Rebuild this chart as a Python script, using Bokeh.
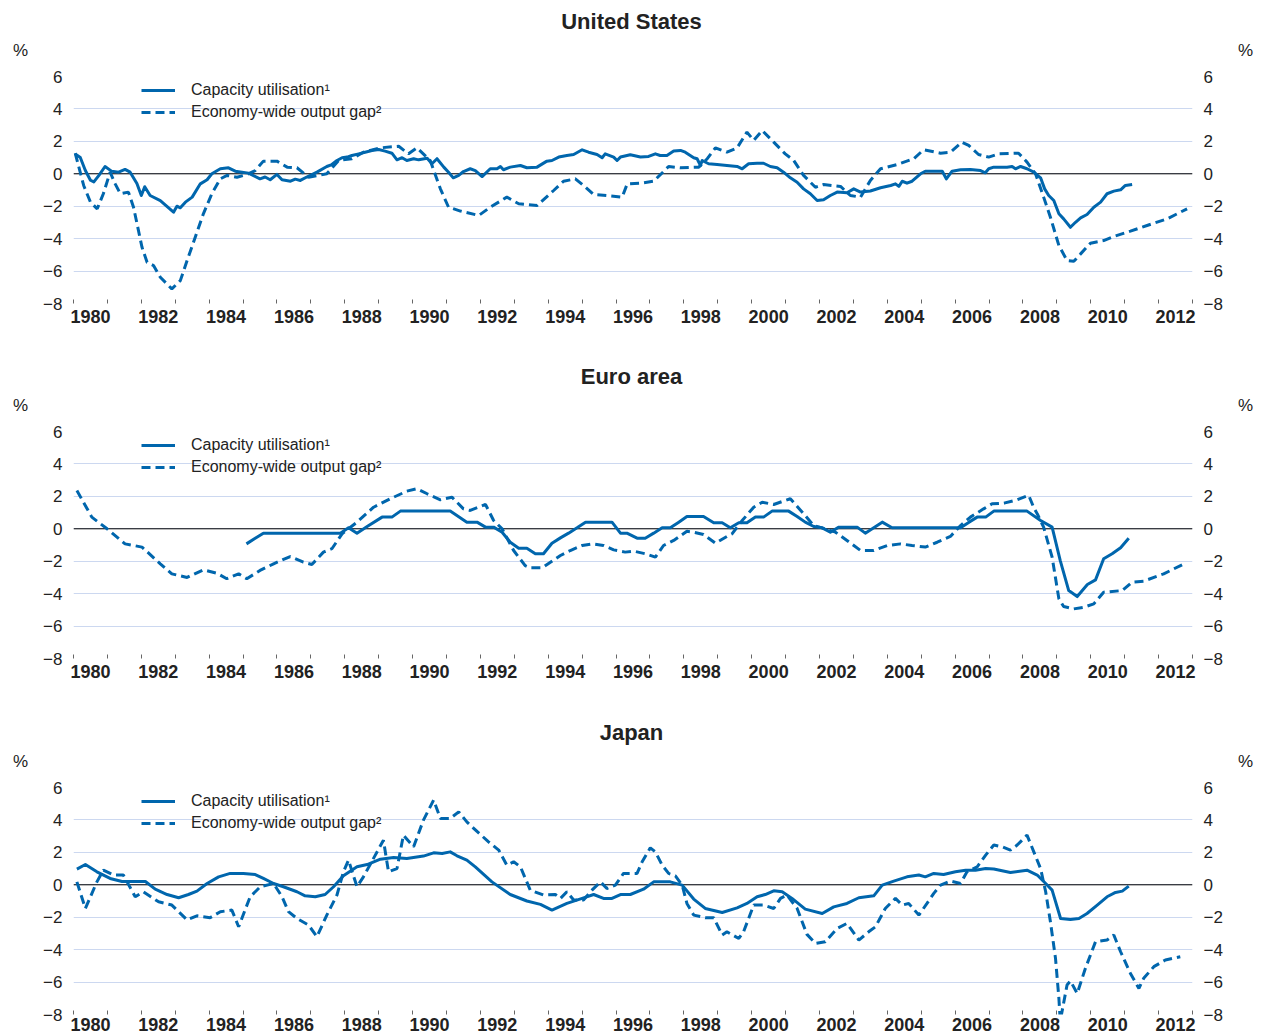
from bokeh.plotting import figure
from bokeh.models import (FixedTicker, LinearAxis, Range1d, Span, Legend,
                          LegendItem, CustomJSTickFormatter)
from bokeh.core.properties import value
from bokeh.layouts import column
from bokeh.embed import file_html
from bokeh.resources import INLINE

# ---------------- data ----------------
YEAR_LABELS = list(range(1980, 2013, 2))
Y_TICKS = [-8, -6, -4, -2, 0, 2, 4, 6]
LEGEND_CU = "Capacity utilisation¹"
LEGEND_OG = "Economy-wide output gap²"
UNIT = "%"

# United States
us_cu_t = [1980.05, 1980.2, 1980.35, 1980.5, 1980.6, 1980.75, 1980.93, 1981.13, 1981.33, 1981.52, 1981.67, 1981.87,
           1982.0, 1982.1, 1982.26, 1982.56, 1982.95, 1983.05, 1983.15, 1983.3, 1983.5, 1983.74, 1983.94, 1984.08,
           1984.33, 1984.57, 1984.77, 1984.97, 1985.16, 1985.5, 1985.65, 1985.8, 1986.0, 1986.15, 1986.4, 1986.54,
           1986.69, 1986.88, 1987.18, 1987.47, 1987.62, 1987.77, 1987.92, 1988.07, 1988.21, 1988.41, 1988.6, 1988.8,
           1989.0, 1989.19, 1989.39, 1989.54, 1989.69, 1989.83, 1990.03, 1990.18, 1990.43, 1990.57, 1990.72, 1990.92,
           1991.06, 1991.2, 1991.36, 1991.5, 1991.7, 1991.85, 1992.05, 1992.29, 1992.49, 1992.59, 1992.68, 1992.88,
           1993.18, 1993.37, 1993.67, 1993.96, 1994.11, 1994.31, 1994.55, 1994.75, 1995.0, 1995.19, 1995.44, 1995.59,
           1995.68, 1995.93, 1996.03, 1996.13, 1996.42, 1996.72, 1996.96, 1997.16, 1997.3, 1997.5, 1997.7, 1997.9,
           1998.04, 1998.29, 1998.39, 1998.49, 1998.54, 1998.73, 1998.98, 1999.27, 1999.57, 1999.72, 1999.91, 2000.16,
           2000.35, 2000.55, 2000.75, 2000.94, 2001.14, 2001.34, 2001.53, 2001.73, 2001.93, 2002.12, 2002.32, 2002.52,
           2002.81, 2003.01, 2003.21, 2003.5, 2003.8, 2004.1, 2004.24, 2004.34, 2004.44, 2004.58, 2004.73, 2004.98,
           2005.12, 2005.62, 2005.74, 2005.91, 2006.16, 2006.45, 2006.75, 2006.89, 2006.99, 2007.14, 2007.53, 2007.68,
           2007.78, 2007.93, 2008.12, 2008.32, 2008.52, 2008.64, 2008.76, 2008.91, 2009.06, 2009.2, 2009.4, 2009.55,
           2009.7, 2009.89, 2010.09, 2010.29, 2010.48, 2010.68, 2010.88, 2011.02, 2011.22]
us_cu_v = [1.23, 1.0, 0.2, -0.4, -0.5, -0.1, 0.45, 0.15, 0.1, 0.27, 0.1, -0.6,
           -1.34, -0.8, -1.34, -1.65, -2.37, -2.0, -2.1, -1.75, -1.44, -0.62, -0.37, 0.0,
           0.31, 0.37, 0.16, 0.1, 0.04, -0.31, -0.2, -0.37, -0.04, -0.37, -0.46, -0.33,
           -0.41, -0.2, 0.1, 0.45, 0.57, 0.82, 0.99, 1.03, 1.13, 1.23, 1.33, 1.44,
           1.5, 1.4, 1.27, 0.86, 0.99, 0.82, 0.93, 0.86, 0.96, 0.62, 0.93, 0.41,
           0.1, -0.25, -0.1, 0.14, 0.31, 0.2, -0.17, 0.31, 0.31, 0.45, 0.25, 0.41,
           0.51, 0.37, 0.41, 0.78, 0.82, 1.03, 1.13, 1.19, 1.48, 1.33, 1.19, 0.99,
           1.23, 1.03, 0.82, 1.03, 1.17, 1.03, 1.07, 1.23, 1.13, 1.13, 1.4, 1.44,
           1.33, 0.99, 0.93, 0.51, 0.82, 0.62, 0.57, 0.51, 0.45, 0.31, 0.62, 0.65,
           0.65, 0.45, 0.37, 0.1, -0.25, -0.52, -0.93, -1.23, -1.65, -1.6, -1.34, -1.13,
           -1.17, -0.93, -1.13, -1.06, -0.86, -0.72, -0.62, -0.78, -0.46, -0.58, -0.46, 0.0,
           0.16, 0.16, -0.31, 0.16, 0.25, 0.27, 0.2, 0.06, 0.31, 0.41, 0.41, 0.45,
           0.31, 0.45, 0.31, 0.1, -0.25, -0.93, -1.34, -1.65, -2.47, -2.78, -3.3, -2.99,
           -2.72, -2.51, -2.06, -1.75, -1.23, -1.07, -0.99, -0.72, -0.66]

us_og_t = [1980.05, 1980.3, 1980.5, 1980.7, 1980.88, 1981.08, 1981.23, 1981.38, 1981.62, 1981.77, 1982.02, 1982.17,
           1982.36, 1982.56, 1982.9, 1983.15, 1983.35, 1983.59, 1983.83, 1984.08, 1984.33, 1984.53, 1984.82, 1985.12,
           1985.36, 1985.6, 1986.0, 1986.3, 1986.59, 1986.93, 1987.23, 1987.47, 1987.82, 1988.21, 1988.55, 1989.05,
           1989.59, 1989.88, 1990.13, 1990.52, 1990.82, 1991.06, 1991.41, 1991.95, 1992.29, 1992.78, 1993.13, 1993.67,
           1994.16, 1994.45, 1994.8, 1995.04, 1995.34, 1995.73, 1996.18, 1996.33, 1996.72, 1997.11, 1997.55, 1997.9,
           1998.44, 1998.69, 1998.93, 1999.27, 1999.57, 1999.86, 2000.06, 2000.31, 2000.65, 2000.99, 2001.24, 2001.53,
           2001.88, 2002.12, 2002.62, 2002.91, 2003.21, 2003.5, 2003.8, 2004.29, 2004.78, 2005.07, 2005.57, 2005.86,
           2006.2, 2006.4, 2006.69, 2006.99, 2007.28, 2007.87, 2008.12, 2008.37, 2008.61, 2008.81, 2009.06, 2009.3,
           2009.5, 2009.7, 2009.99, 2010.38, 2010.68, 2011.17, 2011.66, 2012.25, 2012.84]
us_og_v = [1.27, -0.72, -1.75, -2.16, -1.23, 0.1, -0.62, -1.23, -1.13, -2.06, -4.53, -5.46,
           -5.66, -6.38, -7.1, -6.59, -5.35, -3.91, -2.47, -1.23, -0.31, -0.1, -0.21, -0.04,
           0.2, 0.78, 0.78, 0.41, 0.37, -0.21, -0.1, 0.0, 0.82, 0.93, 1.33, 1.6,
           1.7, 1.23, 1.6, 0.82, -0.93, -2.06, -2.3, -2.57, -2.06, -1.44, -1.85, -1.96,
           -1.03, -0.46, -0.31, -0.72, -1.28, -1.34, -1.44, -0.62, -0.58, -0.46, 0.45, 0.37,
           0.41, 0.93, 1.6, 1.33, 1.6, 2.57, 2.06, 2.67, 1.95, 1.23, 0.82, -0.1,
           -0.83, -0.66, -0.78, -1.34, -1.44, -0.41, 0.31, 0.57, 0.93, 1.48, 1.27, 1.33,
           1.95, 1.75, 1.19, 1.03, 1.23, 1.27, 0.72, 0.0, -1.44, -2.68, -4.43, -5.35,
           -5.4, -4.94, -4.28, -4.12, -3.87, -3.54, -3.19, -2.78, -2.16]

# Euro area
ea_cu_t = [1985.1, 1985.6, 1987.87, 1988.11, 1988.36, 1988.66, 1989.1, 1989.39, 1989.64, 1991.11, 1991.6, 1991.9,
           1992.15, 1992.39, 1992.64, 1992.88, 1993.13, 1993.37, 1993.62, 1993.86, 1994.11, 1994.36, 1994.6, 1994.85,
           1995.1, 1995.88, 1996.13, 1996.32, 1996.62, 1996.86, 1997.11, 1997.36, 1997.6, 1997.85, 1998.09, 1998.58,
           1998.88, 1999.13, 1999.37, 1999.62, 1999.86, 2000.11, 2000.35, 2000.6, 2001.09, 2001.34, 2001.58, 2001.83,
           2002.08, 2002.32, 2002.57, 2003.11, 2003.35, 2003.85, 2004.14, 2006.16, 2006.41, 2006.65, 2006.9, 2007.14,
           2008.12, 2008.52, 2008.86, 2009.1, 2009.35, 2009.6, 2009.9, 2010.14, 2010.38, 2010.63, 2010.88, 2011.12]
ea_cu_v = [-0.93, -0.27, -0.27, 0.06, -0.27, 0.14, 0.72, 0.72, 1.09, 1.09, 0.41, 0.41,
           0.1, 0.1, -0.21, -0.83, -1.2, -1.2, -1.54, -1.54, -0.89, -0.56, -0.27, 0.06,
           0.41, 0.41, -0.27, -0.27, -0.58, -0.58, -0.27, 0.06, 0.06, 0.41, 0.76, 0.76,
           0.37, 0.37, 0.06, 0.37, 0.37, 0.72, 0.72, 1.09, 1.09, 0.76, 0.41, 0.14,
           0.06, -0.21, 0.1, 0.1, -0.27, 0.41, 0.06, 0.06, 0.41, 0.72, 0.72, 1.09,
           1.09, 0.51, 0.1, -1.96, -3.81, -4.18, -3.44, -3.15, -1.85, -1.54, -1.17, -0.58]

ea_og_t = [1980.1, 1980.54, 1980.99, 1981.52, 1982.02, 1982.56, 1982.9, 1983.35, 1983.83, 1984.23, 1984.52, 1984.87,
           1985.11, 1985.5, 1985.9, 1986.39, 1986.78, 1987.03, 1987.37, 1987.62, 1987.92, 1988.36, 1988.85, 1989.34,
           1989.83, 1990.13, 1990.43, 1990.82, 1991.16, 1991.5, 1991.7, 1992.15, 1992.39, 1992.64, 1992.98, 1993.32,
           1993.47, 1993.82, 1994.36, 1994.65, 1995.0, 1995.29, 1995.63, 1995.93, 1996.27, 1996.52, 1996.86, 1997.16,
           1997.4, 1997.7, 1998.09, 1998.29, 1998.58, 1998.93, 1999.27, 1999.42, 1999.72, 2000.06, 2000.31, 2000.65,
           2001.14, 2001.53, 2001.83, 2002.17, 2002.47, 2002.81, 2003.21, 2003.6, 2004.0, 2004.39, 2004.73, 2005.12,
           2005.47, 2005.86, 2006.16, 2006.45, 2006.84, 2007.09, 2007.44, 2007.83, 2008.17, 2008.32, 2008.42, 2008.61,
           2008.86, 2009.06, 2009.2, 2009.5, 2009.79, 2010.09, 2010.38, 2010.93, 2011.22, 2011.56, 2012.15, 2012.79]
ea_og_v = [2.36, 0.72, 0.0, -0.93, -1.13, -2.16, -2.78, -3.0, -2.53, -2.74, -3.08, -2.78,
           -3.08, -2.57, -2.16, -1.71, -2.06, -2.2, -1.44, -1.23, -0.31, 0.41, 1.33, 1.85,
           2.32, 2.47, 2.16, 1.79, 1.95, 1.23, 1.13, 1.5, 0.51, 0.0, -1.34, -2.27,
           -2.41, -2.41, -1.65, -1.34, -1.03, -0.93, -1.03, -1.3, -1.44, -1.38, -1.54, -1.75,
           -1.03, -0.72, -0.15, -0.21, -0.35, -0.89, -0.47, -0.31, 0.51, 1.33, 1.64, 1.5,
           1.85, 0.93, 0.2, 0.0, -0.21, -0.72, -1.34, -1.34, -1.03, -0.93, -1.03, -1.13,
           -0.83, -0.47, 0.2, 0.72, 1.23, 1.54, 1.58, 1.79, 2.06, 1.3, 0.93, 0.1,
           -1.75, -4.32, -4.79, -4.94, -4.84, -4.63, -3.91, -3.81, -3.29, -3.23, -2.78, -2.12]

# Japan
jp_cu_t = [1980.1, 1980.35, 1980.69, 1981.08, 1981.43, 1982.12, 1982.41, 1982.76, 1983.1, 1983.39, 1983.64, 1983.94,
           1984.28, 1984.62, 1985.01, 1985.36, 1985.6, 1985.9, 1986.19, 1986.59, 1986.83, 1987.13, 1987.42, 1987.67,
           1987.96, 1988.36, 1988.66, 1989.05, 1989.44, 1989.83, 1990.32, 1990.62, 1990.87, 1991.11, 1991.31, 1991.6,
           1991.85, 1992.34, 1992.88, 1993.37, 1993.77, 1994.11, 1994.55, 1995.0, 1995.34, 1995.63, 1995.88, 1996.13,
           1996.42, 1996.81, 1997.11, 1997.6, 1997.95, 1998.29, 1998.63, 1999.13, 1999.57, 1999.86, 2000.16, 2000.4,
           2000.65, 2000.9, 2001.19, 2001.58, 2002.08, 2002.42, 2002.81, 2003.16, 2003.6, 2003.85, 2004.19, 2004.58,
           2004.93, 2005.12, 2005.37, 2005.66, 2006.01, 2006.31, 2006.6, 2006.9, 2007.14, 2007.63, 2008.12, 2008.42,
           2008.67, 2008.86, 2009.11, 2009.4, 2009.65, 2009.89, 2010.19, 2010.48, 2010.73, 2010.93, 2011.12]
jp_cu_v = [0.97, 1.25, 0.8, 0.39, 0.2, 0.2, -0.27, -0.6, -0.8, -0.6, -0.39, 0.08,
           0.49, 0.7, 0.7, 0.63, 0.39, 0.08, -0.12, -0.43, -0.68, -0.74, -0.6, -0.12,
           0.55, 1.11, 1.25, 1.58, 1.68, 1.62, 1.77, 1.97, 1.93, 2.03, 1.79, 1.52,
           1.1, 0.18, -0.6, -1.0, -1.21, -1.56, -1.15, -0.84, -0.6, -0.84, -0.84, -0.6,
           -0.6, -0.27, 0.18, 0.18, -0.02, -0.88, -1.46, -1.71, -1.42, -1.15, -0.74, -0.6,
           -0.37, -0.43, -0.84, -1.5, -1.77, -1.36, -1.15, -0.8, -0.68, -0.02, 0.23, 0.49,
           0.6, 0.49, 0.7, 0.63, 0.8, 0.9, 0.9, 1.0, 0.97, 0.76, 0.9, 0.6,
           0.08, -0.33, -2.08, -2.14, -2.08, -1.77, -1.25, -0.74, -0.47, -0.39, -0.08]

jp_og_t = [1980.1, 1980.35, 1980.69, 1980.88, 1981.18, 1981.47, 1981.82, 1982.06, 1982.51, 1982.9, 1983.35, 1983.64,
           1984.03, 1984.33, 1984.67, 1984.87, 1985.21, 1985.51, 1985.9, 1986.15, 1986.34, 1986.59, 1986.93, 1987.18,
           1987.47, 1987.77, 1987.96, 1988.11, 1988.36, 1988.55, 1988.9, 1989.14, 1989.29, 1989.54, 1989.73, 1990.03,
           1990.32, 1990.62, 1990.82, 1991.11, 1991.36, 1991.6, 1991.9, 1992.24, 1992.54, 1992.78, 1992.98, 1993.18,
           1993.47, 1993.86, 1994.21, 1994.36, 1994.55, 1994.75, 1995.04, 1995.29, 1995.54, 1995.73, 1995.98, 1996.22,
           1996.62, 1996.77, 1997.01, 1997.16, 1997.36, 1997.55, 1997.75, 1997.95, 1998.09, 1998.29, 1998.63, 1998.88,
           1999.13, 1999.27, 1999.62, 1999.76, 2000.06, 2000.35, 2000.65, 2000.85, 2001.04, 2001.34, 2001.63, 2001.88,
           2002.17, 2002.52, 2002.81, 2003.16, 2003.45, 2003.65, 2003.94, 2004.24, 2004.44, 2004.63, 2004.93, 2005.17,
           2005.37, 2005.57, 2005.86, 2006.16, 2006.35, 2006.65, 2006.9, 2007.14, 2007.39, 2007.63, 2007.83, 2008.12,
           2008.32, 2008.52, 2008.67, 2008.81, 2008.96, 2009.06, 2009.1, 2009.3, 2009.4, 2009.6, 2009.84, 2010.14,
           2010.48, 2010.68, 2010.88, 2011.17, 2011.42, 2011.56, 2011.86, 2012.2, 2012.64]
jp_og_v = [0.18, -1.46, 0.18, 0.9, 0.6, 0.6, -0.74, -0.43, -1.05, -1.25, -2.17, -1.91,
           -2.03, -1.66, -1.56, -2.59, -0.74, -0.12, 0.08, -0.74, -1.66, -2.08, -2.48, -3.2,
           -1.87, -0.63, 0.8, 1.52, -0.12, 0.49, 1.83, 2.75, 0.8, 1.0, 3.06, 2.34,
           3.99, 5.22, 4.09, 4.09, 4.5, 3.88, 3.29, 2.65, 2.14, 1.21, 1.42, 1.11,
           -0.33, -0.63, -0.6, -0.84, -0.43, -0.94, -0.94, -0.33, 0.18, -0.23, -0.02, 0.7,
           0.7, 1.42, 2.28, 2.03, 1.21, 0.7, 0.55, -0.02, -1.15, -1.87, -2.03, -2.03,
           -3.1, -2.9, -3.31, -2.9, -1.25, -1.25, -1.46, -0.84, -0.63, -1.46, -3.06, -3.61,
           -3.51, -2.69, -2.38, -3.41, -2.9, -2.59, -1.46, -0.84, -1.25, -1.15, -1.87, -1.15,
           -0.53, -0.02, 0.23, 0.08, 0.8, 1.11, 1.83, 2.45, 2.34, 2.14, 2.45, 3.06,
           2.03, 1.0, -0.43, -2.28, -4.54, -7.0, -8.4, -6.18, -5.93, -6.7, -5.16, -3.51,
           -3.41, -3.1, -4.13, -5.47, -6.39, -5.77, -5.05, -4.64, -4.44]

# ---------------- styling ----------------
BLUE = "#0066ad"
GRID = "#ccd8f0"
TXT = "#222222"
FONT = "Liberation Sans"
X0, X1 = 1980, 2013
Y0, Y1 = -8, 6
W = 1261
HEADER_H = 64


def make_header(title):
    h = figure(width=W, height=HEADER_H, x_range=Range1d(0, W), y_range=Range1d(0, HEADER_H),
               output_backend="svg", toolbar_location=None, min_border=0,
               x_axis_location=None, y_axis_location=None)
    h.frame_align = False
    h.outline_line_color = None
    h.xgrid.visible = False
    h.ygrid.visible = False
    h.text(x=[631], y=[HEADER_H - 21], text=[title], text_font=value(FONT),
           text_font_style="bold", text_font_size="22px", text_align="center",
           text_baseline="middle", text_color=TXT)
    h.text(x=[20, 1245], y=[HEADER_H - 50, HEADER_H - 50], text=[UNIT, UNIT], text_font=value(FONT),
           text_font_size="17px", text_align="center", text_baseline="middle", text_color=TXT)
    return h


def make_panel(cu_t, cu_v, og_t, og_v, height, bottom_border, label_standoff):
    p = figure(width=W, height=height, x_range=Range1d(X0, X1), y_range=Range1d(Y0, Y1),
               output_backend="svg", toolbar_location=None,
               min_border_left=73, min_border_right=69, min_border_top=12,
               min_border_bottom=bottom_border)
    p.outline_line_color = None

    # grid
    p.xgrid.visible = False
    p.ygrid.ticker = FixedTicker(ticks=Y_TICKS)
    p.ygrid.grid_line_color = GRID
    p.ygrid.grid_line_width = 1

    # x axis: labels centred within even years, ticks at year boundaries
    xa = p.xaxis[0]
    xa.ticker = FixedTicker(ticks=[y + 0.5 for y in YEAR_LABELS],
                            minor_ticks=list(range(X0, X1 + 1)))
    xa.formatter = CustomJSTickFormatter(code="return String(Math.floor(tick));")
    xa.axis_line_color = None
    xa.major_tick_line_color = None
    xa.major_tick_in = 0
    xa.major_tick_out = 0
    xa.minor_tick_in = 4
    xa.minor_tick_out = 0
    xa.minor_tick_line_color = "#666666"
    xa.major_label_standoff = label_standoff
    xa.axis_label_standoff = 0
    xa.major_label_text_font = FONT
    xa.major_label_text_font_style = "bold"
    xa.major_label_text_font_size = "18px"
    xa.major_label_text_color = TXT

    # y axes, left and right
    ya = p.yaxis[0]
    yr = LinearAxis()
    p.add_layout(yr, "right")
    for ax in (ya, yr):
        ax.ticker = FixedTicker(ticks=Y_TICKS)
        ax.axis_line_color = None
        ax.major_tick_line_color = None
        ax.minor_tick_line_color = None
        ax.major_tick_in = 0
        ax.major_tick_out = 0
        ax.major_label_standoff = 11
        ax.axis_label_standoff = 0
        ax.major_label_text_font = FONT
        ax.major_label_text_font_size = "17px"
        ax.major_label_text_color = TXT

    # zero line
    p.add_layout(Span(location=0, dimension="width", line_color="black", line_width=1,
                      level="underlay"))

    r_og = p.line(og_t, og_v, line_color=BLUE, line_width=3, line_dash="9 5")
    r_cu = p.line(cu_t, cu_v, line_color=BLUE, line_width=3, line_join="round")

    legend = Legend(items=[LegendItem(label=LEGEND_CU, renderers=[r_cu]),
                           LegendItem(label=LEGEND_OG, renderers=[r_og])],
                    location=(68, 180), glyph_width=34, glyph_height=22, label_height=22,
                    label_standoff=16, spacing=0, padding=0, margin=0,
                    border_line_color=None, background_fill_alpha=0,
                    label_text_font=FONT, label_text_font_size="16px", label_text_color=TXT)
    p.add_layout(legend)
    return p


h1 = make_header("United States")
p1 = make_panel(us_cu_t, us_cu_v, us_og_t, us_og_v, 291, 52, 6)
h2 = make_header("Euro area")
p2 = make_panel(ea_cu_t, ea_cu_v, ea_og_t, ea_og_v, 292, 53, 6)
h3 = make_header("Japan")
p3 = make_panel(jp_cu_t, jp_cu_v, jp_og_t, jp_og_v, 259, 20, 3)

layout = column(h1, p1, h2, p2, h3, p3, spacing=0)
open("out.html", "w").write(file_html(layout, INLINE))
